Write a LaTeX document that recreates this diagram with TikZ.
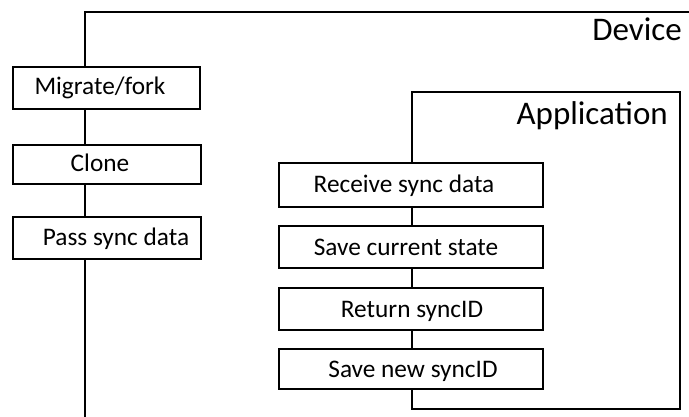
\documentclass[tikz,border=0pt]{standalone}
\usepackage{fontspec}
\setmainfont{Carlito}
\begin{document}
\begin{tikzpicture}[x=1pt,y=-1pt,
  frame/.style={line width=2.4pt,draw=black},
  stepbox/.style={draw=black,line width=2.4pt,fill=white},
  boxtext/.style={inner sep=0pt,font=\fontsize{25.3}{28}\selectfont,anchor=base},
  title/.style={inner sep=0pt,font=\fontsize{33}{38}\selectfont,anchor=base east}]
\useasboundingbox (0,0) rectangle (689,417);
% Device frame
\coordinate (devbl) at (85,425);
\coordinate (devtl) at (85,12);
\coordinate (devtr) at (700,12);
\draw[frame] (devbl) -- (devtl) -- (devtr);
\node[title] (device) at (682,41) {Device};
% Device steps
\draw[stepbox] (13,67) rectangle (200,109);
\node[boxtext] (mig) at (100,95) {Migrate/fork};
\draw[stepbox] (13,145) rectangle (201,184);
\node[boxtext] (clone) at (100,172) {Clone};
\draw[stepbox] (13,217) rectangle (201,259);
\node[boxtext] (pass) at (116,246) {Pass sync data};
% Application frame
\draw[frame] (412,92) rectangle (680,409);
\node[title] (app) at (668,125) {Application};
% Application steps
\draw[stepbox] (279,163) rectangle (543,207);
\node[boxtext] (recv) at (404,193) {Receive sync data};
\draw[stepbox] (279,226) rectangle (543,268);
\node[boxtext] (savecur) at (406,255) {Save current state};
\draw[stepbox] (279,288) rectangle (543,330);
\node[boxtext] (ret) at (412,317) {Return syncID};
\draw[stepbox] (279,349) rectangle (543,389);
\node[boxtext] (savenew) at (413,377) {Save new syncID};
\end{tikzpicture}
\end{document}
